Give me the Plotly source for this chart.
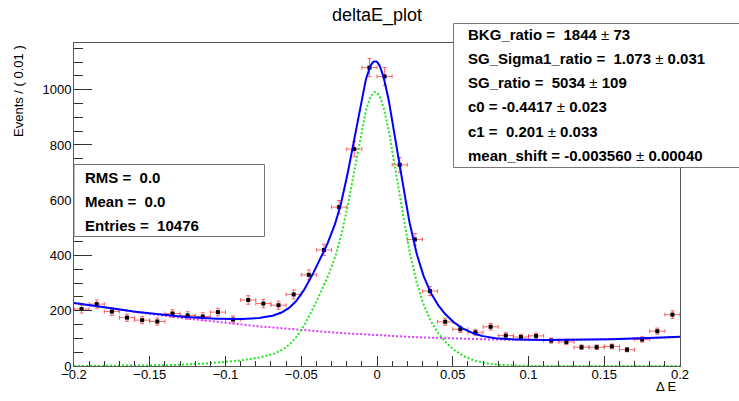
import numpy as np
import plotly.graph_objects as go

# ---- binned data: delta E, 40 bins of width 0.01 in [-0.2, 0.2] ----
bin_centers = [round(-0.195 + 0.01 * i, 3) for i in range(40)]
counts = [206, 224, 197, 175, 166, 161, 190, 183, 179, 195,
          168, 239, 226, 220, 259, 330, 420, 575, 785, 1080,
          1048, 728, 458, 271, 160, 133, 122, 142, 110, 105,
          109, 92, 87, 68, 68, 71, 59, 96, 126, 186]
bin_width = 0.01

# ---- fit results ----
BKG_ratio = (1844, 73)
SG_Sigma1_ratio = (1.073, 0.031)
SG_ratio = (5034, 109)
c0 = (-0.4417, 0.023)
c1 = (0.201, 0.033)
mean_shift = (-0.003560, 0.00040)
n_entries = 10476

# signal shape from MC (core, wide, two low-side tail terms)
mc_mean = 0.00256
mc_sigma1 = 0.01258
mc_sigma2 = 0.027
mc_fracs = [0.4146, 0.4846, 0.0411, 0.0598]
tail_offsets = [0.034, 0.050]
tail_sigmas = [0.011, 0.040]
n_bkg = 5190

x_lo, x_hi = -0.2, 0.2
y_max = 1169


def gauss(x, mu, s):
    return np.exp(-0.5 * ((x - mu) / s) ** 2) / (s * np.sqrt(2 * np.pi))


def signal_pdf(x):
    mu = mc_mean + mean_shift[0]
    s1 = mc_sigma1 * SG_Sigma1_ratio[0]
    return (mc_fracs[0] * gauss(x, mu, s1)
            + mc_fracs[1] * gauss(x, mu, mc_sigma2)
            + mc_fracs[2] * gauss(x, mu - tail_offsets[0], tail_sigmas[0])
            + mc_fracs[3] * gauss(x, mu - tail_offsets[1], tail_sigmas[1]))


def cheb_pdf(x):
    t = (2 * x - (x_lo + x_hi)) / (x_hi - x_lo)
    f = 1 + c0[0] * t + c1[0] * (2 * t ** 2 - 1)
    norm = (2 - c1[0] * 2.0 / 3.0) * (x_hi - x_lo) / 2
    return f / norm


xs = np.linspace(x_lo, x_hi, 801)
sig_curve = SG_ratio[0] * bin_width * signal_pdf(xs)
bkg_curve = n_bkg * bin_width * cheb_pdf(xs)
tot_curve = sig_curve + bkg_curve

errs = np.sqrt(np.array(counts, dtype=float))

fig = go.Figure()

fig.add_trace(go.Scatter(
    x=bin_centers, y=counts, mode="markers",
    marker=dict(symbol="square", size=4, color="black"),
    error_y=dict(type="data", array=errs, color="rgba(255,40,40,0.7)",
                 thickness=1, width=2),
    error_x=dict(type="constant", value=bin_width / 2,
                 color="rgba(255,40,40,0.7)", thickness=1, width=2),
    showlegend=False, hoverinfo="skip"))

fig.add_trace(go.Scatter(x=xs, y=bkg_curve, mode="lines",
                         line=dict(color="#d93cff", width=2, dash="2px,2px"),
                         showlegend=False, hoverinfo="skip"))
fig.add_trace(go.Scatter(x=xs, y=sig_curve, mode="lines",
                         line=dict(color="#1fe61f", width=2, dash="2px,2px"),
                         showlegend=False, hoverinfo="skip"))
fig.add_trace(go.Scatter(x=xs, y=tot_curve, mode="lines",
                         line=dict(color="#0000ff", width=2),
                         showlegend=False, hoverinfo="skip"))

W, H = 739, 401
ML, MR, MT, MB = 74, 59, 43, 35
PW, PH = W - ML - MR, H - MT - MB


def px_x(px):
    return (px - ML) / PW


def px_y(py):
    return (H - MB - py) / PH


FONT = "Liberation Sans, Arial, Helvetica, sans-serif"

x_ticks = [-0.2, -0.15, -0.1, -0.05, 0, 0.05, 0.1, 0.15, 0.2]
x_ticktext = ["\u22120.2", "\u22120.15", "\u22120.1", "\u22120.05", "0",
              "0.05", "0.1", "0.15", "0.2"]
y_ticks = [0, 200, 400, 600, 800, 1000]

fig.update_layout(
    width=W, height=H,
    margin=dict(l=ML, r=MR, t=MT, b=MB, pad=0),
    paper_bgcolor="white", plot_bgcolor="white",
    font=dict(family=FONT, size=13, color="black"),
    xaxis=dict(range=[x_lo, x_hi], tickvals=x_ticks, ticktext=x_ticktext,
               ticks="inside", ticklen=10, tickcolor="#333", tickwidth=1,
               minor=dict(dtick=0.01, tick0=0, ticks="inside", ticklen=5,
                          tickcolor="#333", tickwidth=1),
               showline=True, linecolor="#555", linewidth=1, mirror=True,
               showgrid=False, zeroline=False, ticklabelstandoff=-4,
               tickfont=dict(family=FONT, size=13, color="black")),
    yaxis=dict(range=[0, y_max], tickvals=y_ticks,
               ticks="inside", ticklen=18, tickcolor="#333", tickwidth=1,
               minor=dict(dtick=50, tick0=0, ticks="inside", ticklen=9,
                          tickcolor="#333", tickwidth=1),
               showline=True, linecolor="#555", linewidth=1, mirror=True,
               showgrid=False, zeroline=False, ticklabelstandoff=-1,
               tickfont=dict(family=FONT, size=13, color="black")),
)

annotations = []
shapes = []

# title
annotations.append(dict(text="deltaE_plot", xref="paper", yref="paper",
                        x=px_x(377), y=px_y(16), xanchor="center", yanchor="middle",
                        showarrow=False, font=dict(family=FONT, size=18)))
# axis titles
annotations.append(dict(text="Events / ( 0.01 )", xref="paper", yref="paper",
                        x=px_x(18), y=px_y(43), xanchor="center", yanchor="top",
                        textangle=-90, showarrow=False,
                        font=dict(family=FONT, size=13)))
annotations.append(dict(text="\u0394 E", xref="paper", yref="paper",
                        x=px_x(679), y=px_y(386), xanchor="right", yanchor="middle",
                        showarrow=False, font=dict(family=FONT, size=13)))

# fit parameter box
shapes.append(dict(type="rect", xref="paper", yref="paper",
                   x0=px_x(453.5), x1=px_x(760), y0=px_y(23.5), y1=px_y(167.5),
                   fillcolor="white", line=dict(color="#777", width=1), layer="above"))


def pm_line(name, val, err):
    return f"<b>{name} =\u00a0 {val} </b>\u00b1<b> {err}</b>"


par_lines = [
    pm_line("BKG_ratio", BKG_ratio[0], BKG_ratio[1]),
    pm_line("SG_Sigma1_ratio", f"{SG_Sigma1_ratio[0]:.3f}", f"{SG_Sigma1_ratio[1]:.3f}"),
    pm_line("SG_ratio", SG_ratio[0], SG_ratio[1]),
    f"<b>c0 = {c0[0]:.4f} </b>\u00b1<b> {c0[1]:.3f}</b>",
    pm_line("c1", f"{c1[0]:.3f}", f"{c1[1]:.3f}"),
    f"<b>mean_shift = {mean_shift[0]:.6f} </b>\u00b1<b> {mean_shift[1]:.5f}</b>",
]
for i, txt in enumerate(par_lines):
    annotations.append(dict(text=txt, xref="paper", yref="paper",
                            x=px_x(466), y=px_y(34.5 + 24.15 * i),
                            xanchor="left", yanchor="middle", showarrow=False,
                            font=dict(family=FONT, size=15, color="black")))

# histogram statistics box
shapes.append(dict(type="rect", xref="paper", yref="paper",
                   x0=px_x(74), x1=px_x(264.5), y0=px_y(164.5), y1=px_y(236.5),
                   fillcolor="white", line=dict(color="#777", width=1), layer="above"))
stat_lines = ["<b>RMS =\u00a0 0.0</b>", "<b>Mean =\u00a0 0.0</b>",
              f"<b>Entries =\u00a0 {n_entries}</b>"]
for i, txt in enumerate(stat_lines):
    annotations.append(dict(text=txt, xref="paper", yref="paper",
                            x=px_x(83), y=px_y(177.5 + 24.2 * i),
                            xanchor="left", yanchor="middle", showarrow=False,
                            font=dict(family=FONT, size=15, color="black")))

fig.update_layout(annotations=annotations, shapes=shapes)

fig.write_html("out.html")
